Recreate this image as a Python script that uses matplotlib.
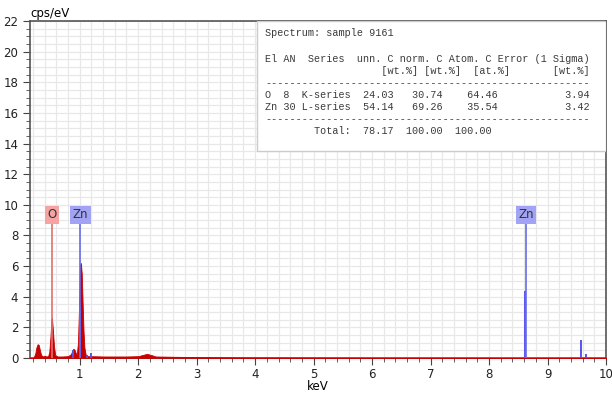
import numpy as np
import matplotlib.pyplot as plt
from matplotlib.ticker import MultipleLocator
from matplotlib.patches import Rectangle

# spectrum (keV, cps/eV)
energy = [0.15, 0.21, 0.24, 0.26, 0.28, 0.30, 0.32, 0.34, 0.37, 0.40, 0.43, 0.46,
          0.48, 0.50, 0.515, 0.525, 0.54, 0.56, 0.58, 0.62, 0.70, 0.80, 0.85, 0.87,
          0.89, 0.91, 0.93, 0.95, 0.97, 0.99, 1.005, 1.02, 1.035, 1.05, 1.065, 1.08,
          1.10, 1.13, 1.20, 1.40, 1.60, 1.80, 2.00, 2.08, 2.15, 2.22, 2.30, 2.60,
          3.00, 3.50, 4.00, 5.00, 6.00, 7.00, 10.0]
cps = [0.0, 0.0, 0.3, 0.7, 0.9, 0.85, 0.5, 0.2, 0.1, 0.15, 0.1, 0.12,
       0.4, 1.4, 2.5, 2.6, 1.9, 0.8, 0.2, 0.1, 0.1, 0.12, 0.25, 0.45,
       0.6, 0.55, 0.35, 0.2, 1.0, 3.5, 6.0, 6.2, 5.5, 3.6, 1.8, 0.7,
       0.25, 0.12, 0.12, 0.1, 0.1, 0.1, 0.12, 0.2, 0.27, 0.2, 0.1, 0.08,
       0.06, 0.04, 0.03, 0.02, 0.01, 0.01, 0.0]

# Zn line positions (blue sticks)
zn_lines = [0.89, 1.012, 1.125, 1.20, 8.615, 9.57, 9.65]
zn_heights = [0.55, 3.4, 0.2, 0.3, 4.4, 1.2, 0.25]

# element markers
markers = ['O', 'Zn', 'Zn']
marker_keV = [0.525, 1.012, 8.63]
marker_fc = ['#f5a3a3', '#a3a3f5', '#a3a3f5']
marker_lc = ['#e07070', '#6a6ae8', '#6a6ae8']

table = [
    "Spectrum: sample 9161",
    "",
    "El AN  Series  unn. C norm. C Atom. C Error (1 Sigma)",
    "                   [wt.%] [wt.%]  [at.%]       [wt.%]",
    "-" * 53,
    "O  8  K-series  24.03   30.74    64.46           3.94",
    "Zn 30 L-series  54.14   69.26    35.54           3.42",
    "-" * 53,
    "        Total:  78.17  100.00  100.00",
]

fig = plt.figure(figsize=(6.12, 3.94), dpi=100)
ax = fig.add_axes([30/612, 1-358/394, 576/612, 337/394])
ax.set_xlim(0.15, 10)
ax.set_ylim(0, 22)

ax.xaxis.set_major_locator(MultipleLocator(1))
ax.xaxis.set_minor_locator(MultipleLocator(0.2))
ax.yaxis.set_major_locator(MultipleLocator(2))
ax.yaxis.set_minor_locator(MultipleLocator(0.5))
ax.grid(True, which='both', color='#e8e8e8', lw=0.9)
ax.set_axisbelow(True)
ax.tick_params(which='both', direction='out', colors='#444', labelcolor='#222', labelsize=8.5)
ax.tick_params(which='major', length=5)
ax.tick_params(which='minor', length=3)
ax.tick_params(axis='x', which='major', pad=2)
for s in ax.spines.values():
    s.set_color('#555')
    s.set_linewidth(1.2)

ax.fill_between(energy, cps, 0, color='#c80000', lw=0.6, zorder=3)
ax.vlines(zn_lines, 0, zn_heights, color='#5555ee', lw=1.4, zorder=4)

for name, x, fc, lc in zip(markers, marker_keV, marker_fc, marker_lc):
    ax.vlines(x, 0, 8.75, color=lc, lw=1.2, zorder=4)
    ax.text(x, 9.35, name, ha='center', va='center', fontsize=8.5, color='#333',
            bbox=dict(boxstyle='square,pad=0.2', fc=fc, ec='none'), zorder=5)

ax.add_patch(Rectangle((4.04, 13.5), 5.96, 8.5, fc='white', ec='#cccccc', lw=1, zorder=5))
row_px = [33, 46, 59, 71, 83, 95, 107, 119, 131]
for line, py in zip(table, row_px):
    ax.text(4.17, (358.3 - py) / 15.33, line, family='Liberation Mono', fontsize=7.3,
            color='#3a3a3a', va='center', ha='left', zorder=6)

ax.set_xlabel('keV', fontsize=8.5)
ax.xaxis.set_label_coords(0.5, -0.066)
fig.text(30/612, 1-14/394, 'cps/eV', fontsize=8.5, va='center', ha='left')

fig.savefig('out.png', dpi=100)
